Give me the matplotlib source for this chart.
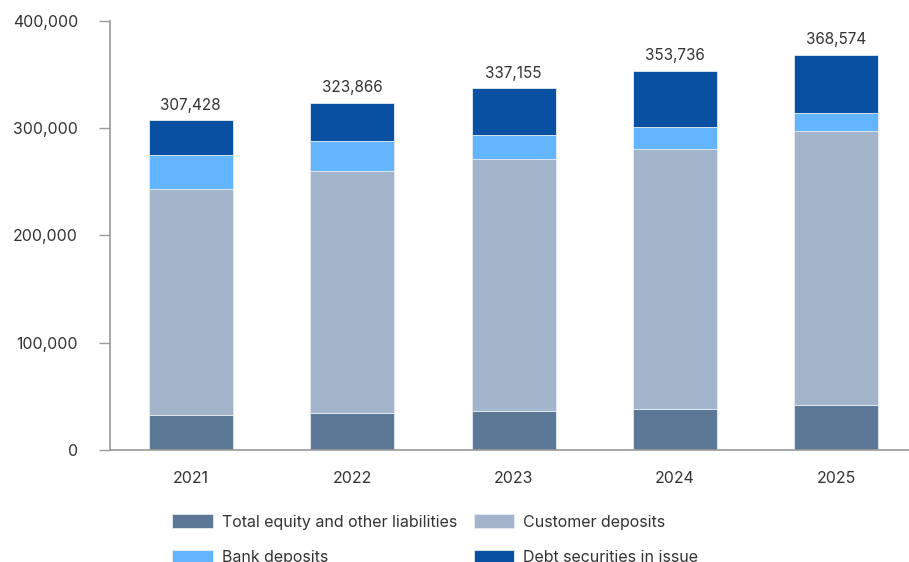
import matplotlib
matplotlib.use("Agg")
import matplotlib.pyplot as plt
import numpy as np

plt.rcParams['font.family'] = ['Inter', 'DejaVu Sans']

years = ["2021", "2022", "2023", "2024", "2025"]
equity = [32300, 34100, 36400, 37900, 42000]
customer = [211100, 225800, 235000, 242700, 255300]
bank = [32000, 28200, 22500, 20600, 16874]
debt = [32028, 35766, 43255, 52536, 54400]
totals = [307428, 323866, 337155, 353736, 368574]
tick_values = [0, 100000, 200000, 300000, 400000]

series = [
    ("Total equity and other liabilities", equity, "#5b7897"),
    ("Customer deposits", customer, "#a3b5ca"),
    ("Bank deposits", bank, "#64b5ff"),
    ("Debt securities in issue", debt, "#0750a2"),
]

fig = plt.figure(figsize=(9.09, 5.62), dpi=100)
ax = fig.add_axes([110 / 909, 112 / 562, 799 / 909, 429 / 562])

x = np.arange(len(years))
bottom = np.zeros(len(years))
handles = {}
for name, vals, color in series:
    vals = np.array(vals, dtype=float)
    bars = ax.bar(x, vals, 0.52, bottom=bottom, color=color,
                  edgecolor="#e6ecf2", linewidth=0.6, label=name)
    handles[name] = bars
    bottom += vals

# total of each stack above the bar
for xi, tot in zip(x, totals):
    ax.annotate(f"{tot:,}", (xi, tot), xytext=(0, 5.5), textcoords="offset points",
                ha="center", va="bottom", fontsize=11, color="#333333")

ax.set_ylim(0, 400000)
ax.set_xlim(-0.5, 4.45)
ax.set_yticks(tick_values)
ax.set_yticklabels([f"{v:,}" for v in tick_values])
ax.set_xticks(x)
ax.set_xticklabels(years)

for side in ["top", "right"]:
    ax.spines[side].set_visible(False)
for side in ["left", "bottom"]:
    ax.spines[side].set_color("#999999")
    ax.spines[side].set_linewidth(1.2)

ax.tick_params(axis="y", length=8, width=1.0, color="#999999", pad=15,
               labelsize=11.4, labelcolor="#333333")
ax.tick_params(axis="x", length=0, pad=15, labelsize=11.4, labelcolor="#333333")

order = ["Total equity and other liabilities", "Bank deposits",
         "Customer deposits", "Debt securities in issue"]
fig.legend([handles[n] for n in order], order, ncol=2, frameon=False,
           loc="upper left", bbox_to_anchor=(172 / 909, 1 - 514 / 562),
           fontsize=11.5, handlelength=2.55, handleheight=1.0, handletextpad=0.55,
           columnspacing=1.05, labelspacing=1.25, borderpad=0, borderaxespad=0,
           labelcolor="#333333")

fig.savefig("out.png", dpi=100)
